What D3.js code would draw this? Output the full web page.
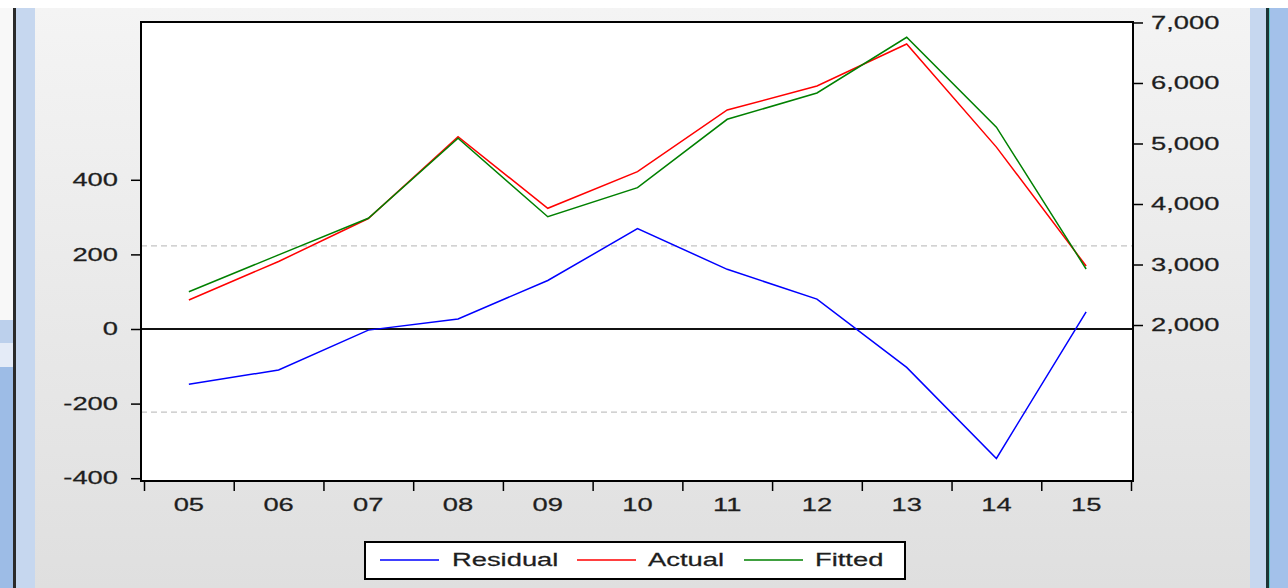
<!DOCTYPE html>
<html>
<head>
<meta charset="utf-8">
<script src="https://cdn.jsdelivr.net/npm/d3@7"></script>
<style>
html,body{margin:0;padding:0;background:#fff;}
svg{display:block;}
text{font-family:"Liberation Sans",Arial,sans-serif;fill:#1e1e1e;stroke:#1e1e1e;stroke-width:0.25px;}
</style>
</head>
<body>
<svg id="chart" width="1288" height="588"></svg>
<script>
// ---- data ----
const categories = ["05","06","07","08","09","10","11","12","13","14","15"];
const residual = [-148, -110, -3, 27, 130, 269, 160, 80, -103, -347, 46];
const actual   = [2413, 3050, 3760, 5112, 3929, 4534, 5554, 5950, 6645, 4940, 2975];
const fitted   = [2550, 3160, 3764, 5086, 3790, 4270, 5400, 5835, 6755, 5270, 2926];
const leftTicks  = [-400, -200, 0, 200, 400];
const rightTicks = [2000, 3000, 4000, 5000, 6000, 7000];
const residualStd = 223;
const legendLabels = ["Residual", "Actual", "Fitted"];

// ---- layout ----
const W = 1288, H = 588;
const L = 141, R = 1133, T = 22, B = 481;
const SX = 1.52; // horizontal text stretch
const svg = d3.select("#chart");

// window background
const defs = svg.append("defs");
const g1 = defs.append("linearGradient").attr("id","bg").attr("x1",0).attr("y1",0).attr("x2",0).attr("y2",1);
g1.append("stop").attr("offset","0%").attr("stop-color","#f4f4f4");
g1.append("stop").attr("offset","100%").attr("stop-color","#dfdfdf");
svg.append("rect").attr("x",0).attr("y",0).attr("width",W).attr("height",H).attr("fill","#ffffff");
svg.append("rect").attr("x",35).attr("y",8).attr("width",1215).attr("height",H-8).attr("fill","url(#bg)");
// left side pieces
svg.append("rect").attr("x",0).attr("y",8).attr("width",14).attr("height",312).attr("fill","#f8f8f8");
svg.append("rect").attr("x",0).attr("y",320).attr("width",14).attr("height",23).attr("fill","#bcd0ec");
svg.append("rect").attr("x",0).attr("y",343).attr("width",14).attr("height",24).attr("fill","#e4ebf7");
svg.append("rect").attr("x",0).attr("y",367).attr("width",14).attr("height",H-367).attr("fill","#9dbce6");
svg.append("rect").attr("x",13).attr("y",8).attr("width",3).attr("height",H-8).attr("fill","#2a2a2a");
svg.append("rect").attr("x",16).attr("y",8).attr("width",19).attr("height",H-8).attr("fill","#c6d7ef");
// right side pieces
svg.append("rect").attr("x",1250).attr("y",8).attr("width",16).attr("height",H-8).attr("fill","#c6d7ef");
svg.append("rect").attr("x",1266).attr("y",8).attr("width",3).attr("height",H-8).attr("fill","#1c3434");
svg.append("rect").attr("x",1269).attr("y",8).attr("width",1).attr("height",H-8).attr("fill","#5fc8c8");
svg.append("rect").attr("x",1270).attr("y",8).attr("width",18).attr("height",H-8).attr("fill","#a3c1ea");

// ---- scales ----
const xBand = d3.scaleBand().domain(categories).range([144, 1131]).padding(0);
const xc = c => xBand(c) + xBand.bandwidth()/2;
const yL = d3.scaleLinear().domain([-407.5, 823]).range([B, T]);
const yR = d3.scaleLinear().domain([-578, 7008]).range([B, T]);
const xEdge = d3.scaleLinear().domain([0, categories.length]).range([144, 1131]);

// plot area
svg.append("rect").attr("x",L).attr("y",T).attr("width",R-L).attr("height",B-T).attr("fill","#ffffff");

// dashed std lines
[residualStd, -residualStd].forEach(v => {
  svg.append("line").attr("x1",L).attr("x2",R).attr("y1",yL(v)).attr("y2",yL(v))
    .attr("stroke","#c4c4c4").attr("stroke-width",1.3).attr("stroke-dasharray","6,4");
});
// zero line
svg.append("line").attr("x1",L).attr("x2",R).attr("y1",yL(0)).attr("y2",yL(0))
  .attr("stroke","#111").attr("stroke-width",1.8);

// series lines
const line = (yS) => d3.line().x((d,i)=>xc(categories[i])).y(d=>yS(d));
svg.append("path").datum(residual).attr("d", line(yL)).attr("fill","none").attr("stroke","#0000ff").attr("stroke-width",1.5);
svg.append("path").datum(actual).attr("d", line(yR)).attr("fill","none").attr("stroke","#ff0000").attr("stroke-width",1.5);
svg.append("path").datum(fitted).attr("d", line(yR)).attr("fill","none").attr("stroke","#008000").attr("stroke-width",1.5);

// frame
svg.append("rect").attr("x",L).attr("y",T).attr("width",R-L).attr("height",B-T)
  .attr("fill","none").attr("stroke","#000").attr("stroke-width",2);

// left axis
const axL = svg.append("g").attr("transform",`translate(${L},0)`)
  .call(d3.axisLeft(yL).tickValues(leftTicks).tickSize(10).tickFormat(d => String(d)));
axL.select(".domain").remove();
axL.selectAll(".tick line").attr("stroke","#000").attr("stroke-width",1.5);
axL.selectAll(".tick text").attr("x", -23/SX).attr("transform",`scale(${SX},1)`)
  .style("font-size","18px").attr("fill","#1e1e1e");

// right axis
const axR = svg.append("g").attr("transform",`translate(${R},0)`)
  .call(d3.axisRight(yR).tickValues(rightTicks).tickSize(10).tickFormat(d3.format(",")));
axR.select(".domain").remove();
axR.selectAll(".tick line").attr("stroke","#000").attr("stroke-width",1.5);
axR.selectAll(".tick text").attr("x", 18/SX).attr("transform",`scale(${SX},1)`)
  .style("font-size","18px").attr("fill","#1e1e1e");

// bottom axis (ticks at band edges)
const axB = svg.append("g").attr("transform",`translate(0,${B})`)
  .call(d3.axisBottom(xEdge).tickValues(d3.range(categories.length+1)).tickSize(10).tickFormat(""));
axB.select(".domain").remove();
axB.selectAll(".tick line").attr("stroke","#000").attr("stroke-width",1.5);
svg.append("g").selectAll("text").data(categories).join("text")
  .attr("transform", d => `translate(${xc(d)},${B+24}) scale(${SX},1)`)
  .attr("text-anchor","middle").attr("dy","0.35em")
  .style("font-size","18px").text(d=>d);

// legend
const lg = svg.append("g");
lg.append("rect").attr("x",365).attr("y",542).attr("width",540).attr("height",37)
  .attr("fill","#fff").attr("stroke","#000").attr("stroke-width",2);
const legendColors = ["#0000ff","#ff0000","#008000"];
const legendLineX = [380, 577, 744];
const legendTextX = [452, 648, 815];
legendLabels.forEach((lab,i)=>{
  lg.append("line").attr("x1",legendLineX[i]).attr("x2",legendLineX[i]+59).attr("y1",560).attr("y2",560)
    .attr("stroke",legendColors[i]).attr("stroke-width",1.6);
  lg.append("text").attr("transform",`translate(${legendTextX[i]},560) scale(${SX},1)`)
    .attr("dy","0.35em").style("font-size","18px").text(lab);
});
</script>
</body>
</html>
